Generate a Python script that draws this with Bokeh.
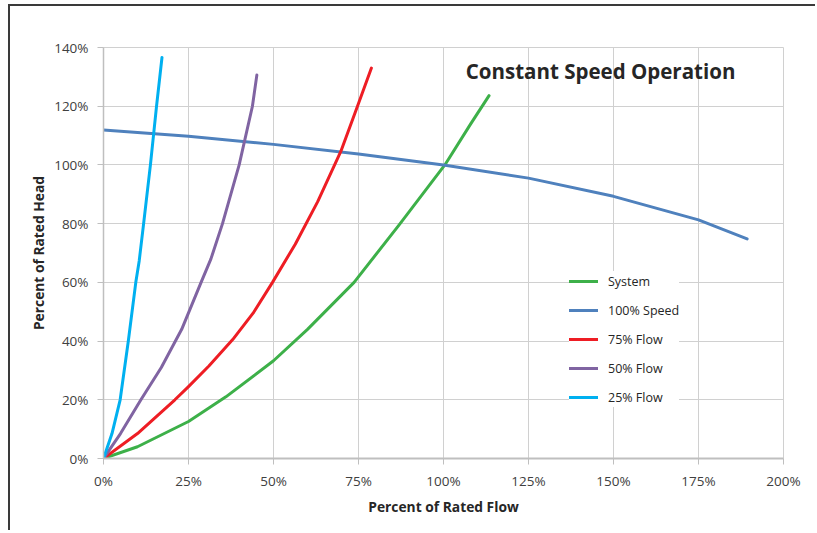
from bokeh.plotting import figure
from bokeh.models import (Range1d, FixedTicker, PrintfTickFormatter, Legend,
                          LegendItem, Label)
from bokeh.embed import file_html
from bokeh.resources import INLINE

# ---- data (percent of rated flow / percent of rated head) ----
system_flow = [0, 10, 25, 36, 50, 60, 73.7, 86.9, 100.4, 108, 113.4]
system_head = [0, 4, 12.6, 21, 33.3, 44, 60, 79.5, 100, 114, 123.6]

speed100_flow = [0, 25, 50, 75, 100, 125, 150, 175, 189.3]
speed100_head = [111.9, 109.8, 107.0, 103.7, 100, 95.5, 89.3, 81.3, 74.8]

flow75_flow = [0, 10, 21, 25, 31, 38, 44, 49.7, 56.4, 63, 69.8, 74.7, 78.8]
flow75_head = [0, 8.5, 20, 24.5, 31.5, 40.5, 49.5, 60, 73, 87.5, 104.6, 120, 133]

flow50_flow = [0, 5, 11, 17, 23, 28.7, 31.6, 35, 39.9, 43.8, 45.1]
flow50_head = [0, 8.5, 20, 31, 44, 60, 68, 80, 100, 120, 130.6]

flow25_flow = [0, 2.5, 4.9, 7.3, 9.5, 10.5, 11.8, 13.8, 15.6, 17.2]
flow25_head = [0, 8.5, 20, 40, 60, 67.3, 80, 100, 120, 136.6]

x_ticks = [0, 25, 50, 75, 100, 125, 150, 175, 200]
y_ticks = [0, 20, 40, 60, 80, 100, 120, 140]

series_names = ["System", "100% Speed", "75% Flow", "50% Flow", "25% Flow"]
series_colors = ["#3DB049", "#4F81BD", "#EE1D24", "#8064A2", "#00B0F0"]
series_data = [(system_flow, system_head), (speed100_flow, speed100_head),
               (flow75_flow, flow75_head), (flow50_flow, flow50_head),
               (flow25_flow, flow25_head)]

FONT = "Open Sans"
GRID = "#d0d0d0"
AXIS = "#bfbfbf"

p = figure(width=807, height=526, output_backend="svg", toolbar_location=None,
           x_range=Range1d(0, 200), y_range=Range1d(0, 140),
           min_border_left=93, min_border_right=34, min_border_top=41,
           min_border_bottom=74, background_fill_color="white",
           border_fill_color="white",
           styles={"border-top": "2px solid #3a3a3a",
                   "border-left": "2px solid #3a3a3a",
                   "margin-left": "8px", "margin-top": "4px"})
p.outline_line_color = GRID

for ax in (p.xaxis[0], p.yaxis[0]):
    ax.axis_line_color = AXIS
    ax.major_tick_line_color = AXIS
    ax.major_tick_out = 6
    ax.major_tick_in = 0
    ax.minor_tick_line_color = None
    ax.major_label_text_font = FONT
    ax.major_label_text_font_size = "13.5px"
    ax.major_label_text_color = "#404040"
    ax.axis_label_text_font = FONT
    ax.axis_label_text_font_size = "13.8px"
    ax.axis_label_text_font_style = "bold"
    ax.axis_label_text_color = "#262626"
    ax.formatter = PrintfTickFormatter(format="%d%%")

p.xaxis[0].ticker = FixedTicker(ticks=x_ticks)
p.yaxis[0].ticker = FixedTicker(ticks=y_ticks)
p.xaxis[0].axis_line_width = 2
p.yaxis[0].axis_line_width = 1.5
p.xaxis[0].axis_label = "Percent of Rated Flow"
p.yaxis[0].axis_label = "Percent of Rated Head"
p.xaxis[0].major_label_standoff = 7
p.yaxis[0].major_label_standoff = 9
p.xaxis[0].axis_label_standoff = 4
p.yaxis[0].axis_label_standoff = 3

p.xgrid.ticker = FixedTicker(ticks=x_ticks)
p.ygrid.ticker = FixedTicker(ticks=y_ticks)
p.xgrid.grid_line_color = GRID
p.ygrid.grid_line_color = GRID

items = []
for name, color, (xs, ys) in zip(series_names, series_colors, series_data):
    r = p.line(xs, ys, line_color=color, line_width=3,
               line_join="round", line_cap="round")
    items.append(LegendItem(label=name, renderers=[r]))

legend = Legend(items=items, location=(466, 51), border_line_color=None,
                background_fill_color="white", background_fill_alpha=1,
                label_text_font=FONT, label_text_font_size="12.5px",
                label_text_color="#262626", glyph_width=29, glyph_height=20,
                spacing=9, padding=11, label_standoff=10, margin=0)
p.add_layout(legend, "center")

title = Label(x=146.2, y=132.1, text="Constant Speed Operation",
              text_font=FONT, text_font_size="20.5px", text_font_style="bold",
              text_color="#262626", text_align="center",
              text_baseline="middle")
p.add_layout(title)

open("out.html", "w").write(file_html(p, INLINE))
